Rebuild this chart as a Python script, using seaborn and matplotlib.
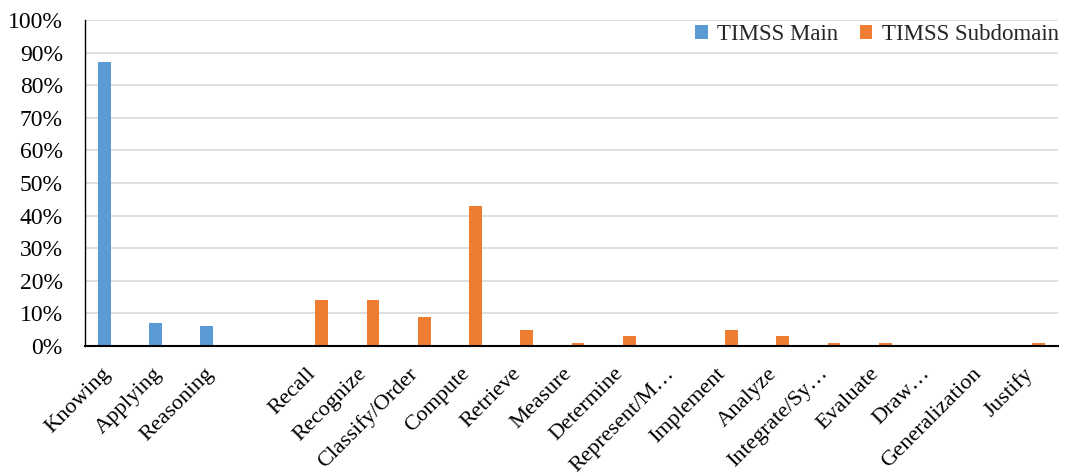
import matplotlib
matplotlib.use("Agg")
import matplotlib.pyplot as plt
import seaborn as sns
import pandas as pd
import numpy as np
from matplotlib.ticker import PercentFormatter

categories = ["Knowing", "Applying", "Reasoning", " ", "Recall", "Recognize",
              "Classify/Order", "Compute", "Retrieve", "Measure", "Determine",
              "Represent/M\u2026", "Implement", "Analyze", "Integrate/Sy\u2026",
              "Evaluate", "Draw\u2026", "Generalization", "Justify"]
main_values = [0.87, 0.07, 0.06, np.nan, np.nan, np.nan, np.nan, np.nan, np.nan,
               np.nan, np.nan, np.nan, np.nan, np.nan, np.nan, np.nan, np.nan,
               np.nan, np.nan]
sub_values = [np.nan, np.nan, np.nan, 0.0, 0.14, 0.14, 0.09, 0.43, 0.05, 0.01,
              0.03, 0.0, 0.05, 0.03, 0.01, 0.01, 0.0, 0.0, 0.01]
series_names = ["TIMSS Main", "TIMSS Subdomain"]
colors = ["#5B9BD5", "#ED7D31"]

rows = []
for c, m, s in zip(categories, main_values, sub_values):
    rows.append({"cat": c, "series": series_names[0], "val": m})
    rows.append({"cat": c, "series": series_names[1], "val": s})
df = pd.DataFrame(rows)

sns.set_style("white")
plt.rcParams["font.family"] = ["Liberation Serif", "DejaVu Serif"]

fig = plt.figure(figsize=(10.72, 4.75), dpi=100)
ax = fig.add_axes([85 / 1072, 1 - 346 / 475, (1058 - 85) / 1072, (346 - 20) / 475])

sns.barplot(data=df, x="cat", y="val", hue="series", order=categories,
            hue_order=series_names, palette=colors, width=0.5, dodge=True,
            ax=ax, linewidth=0, errorbar=None, saturation=1)

ax.set_ylim(0, 1.0)
ax.set_xlim(-0.5, len(categories) - 0.5)
ax.set_yticks(np.arange(0, 1.01, 0.1))
ax.yaxis.set_major_formatter(PercentFormatter(1.0, decimals=0))
# label anchors sit slightly left of category centres, as in the reference
ax.set_xticks(np.arange(len(categories)) - 0.05, categories)
ax.grid(axis="y", color="#D9D9D9", linewidth=1.2)
ax.set_axisbelow(True)
ax.set_xlabel("")
ax.set_ylabel("")
for s in ["top", "right"]:
    ax.spines[s].set_visible(False)
ax.spines["left"].set_color("black")
ax.spines["left"].set_linewidth(1.0)
ax.spines["bottom"].set_color("black")
ax.spines["bottom"].set_linewidth(1.5)
ax.tick_params(axis="y", length=0, labelsize=17, colors="black", pad=16)
ax.tick_params(axis="x", length=0, labelsize=16.2, colors="black", pad=18)
plt.setp(ax.get_xticklabels(), rotation=45, ha="right", va="center",
         rotation_mode="anchor")

leg = ax.legend(loc="center right", bbox_to_anchor=(1.01, 0.955), ncol=2, frameon=False,
                fontsize=16.5, handlelength=0.55, handleheight=0.55,
                handletextpad=0.4, columnspacing=0.95, borderaxespad=0)

fig.savefig("out.png", dpi=100)
